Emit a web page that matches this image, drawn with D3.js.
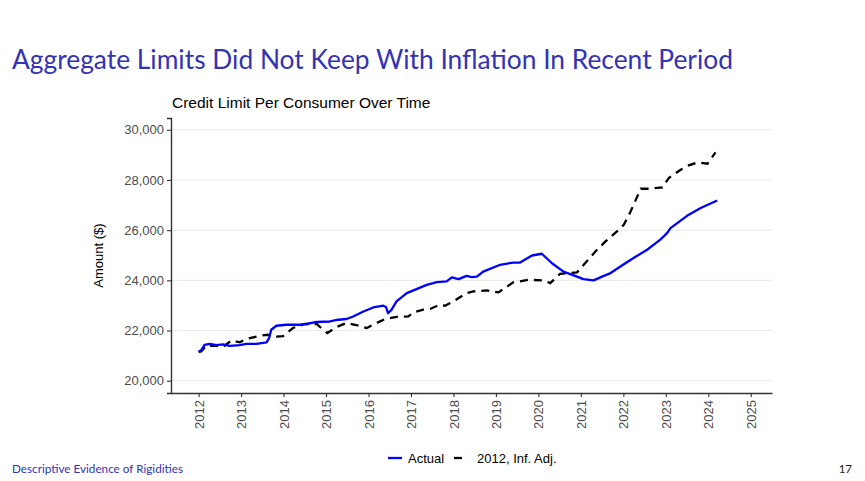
<!DOCTYPE html>
<html>
<head>
<meta charset="utf-8">
<script src="https://cdn.jsdelivr.net/npm/d3@7"></script>
<style>
  body { margin: 0; background: #fff; }
  svg { display: block; }
</style>
</head>
<body>
<div id="chart"></div>
<script>
// Series (year, amount in $)
const actualYears = [2012.0, 2012.06, 2012.14, 2012.26, 2012.42, 2012.57, 2012.73, 2012.97, 2013.12, 2013.36, 2013.60, 2013.66, 2013.71, 2013.83,
  2014.07, 2014.38, 2014.54, 2014.78, 2015.09, 2015.29, 2015.48, 2015.64, 2015.88, 2016.11, 2016.35, 2016.41, 2016.46, 2016.54, 2016.66, 2016.90,
  2017.13, 2017.37, 2017.61, 2017.84, 2017.96, 2018.12, 2018.31, 2018.43, 2018.55, 2018.70, 2019.10, 2019.41, 2019.57, 2019.85, 2020.08,
  2020.32, 2020.59, 2020.91, 2021.06, 2021.30, 2021.54, 2021.70, 2021.93, 2022.24, 2022.56, 2022.87, 2023.03, 2023.11, 2023.50, 2023.82, 2024.21];
const actualValues = [21150, 21210, 21430, 21470, 21420, 21450, 21390, 21420, 21470, 21470, 21530, 21700, 22030, 22190,
  22230, 22230, 22260, 22340, 22360, 22430, 22460, 22560, 22760, 22920, 22990, 22940, 22690, 22820, 23160, 23490,
  23650, 23820, 23930, 23960, 24120, 24050, 24180, 24130, 24150, 24350, 24620, 24710, 24710, 24990, 25060,
  24680, 24350, 24150, 24050, 24000, 24180, 24290, 24550, 24890, 25220, 25620, 25880, 26080, 26570, 26880, 27180];

const adjYears = [2012.0, 2012.06, 2012.18, 2012.42, 2012.57, 2012.77, 2012.97, 2013.12, 2013.44, 2013.63, 2013.83, 2013.99,
  2014.22, 2014.50, 2014.78, 2014.93, 2015.03, 2015.25, 2015.48, 2015.68, 2015.96, 2016.19, 2016.39, 2016.66, 2016.94,
  2017.05, 2017.29, 2017.45, 2017.68, 2017.80, 2018.00, 2018.31, 2018.47, 2018.79, 2019.06, 2019.41, 2019.77, 2020.12,
  2020.28, 2020.51, 2020.91, 2021.38, 2021.58, 2021.85, 2022.01, 2022.17, 2022.41, 2022.60, 2022.92, 2023.07, 2023.35,
  2023.54, 2023.74, 2023.98, 2024.17];
const adjValues = [21150, 21170, 21390, 21390, 21340, 21600, 21530, 21660, 21790, 21830, 21760, 21780,
  22100, 22260, 22260, 22030, 21900, 22140, 22300, 22230, 22100, 22300, 22460, 22540, 22560,
  22720, 22830, 22860, 23030, 22990, 23160, 23490, 23560, 23600, 23520, 23920, 24020, 24000,
  23890, 24260, 24320, 25220, 25550, 25950, 26210, 26740, 27650, 27650, 27700, 28080, 28410,
  28580, 28700, 28650, 29100];

const yearTicks = d3.range(2012, 2026);
const amountTicks = [20000, 22000, 24000, 26000, 28000, 30000];

const actual = actualYears.map((t, i) => ({ t: t, v: actualValues[i] }));
const adjusted = adjYears.map((t, i) => ({ t: t, v: adjValues[i] }));

const W = 865, H = 481;
const beamerBlue = "#3333b3";

const svg = d3.select("#chart").append("svg")
  .attr("width", W)
  .attr("height", H);

// Slide title
svg.append("text")
  .attr("x", 12)
  .attr("y", 69)
  .attr("fill", beamerBlue)
  .style("font-family", "Lato, 'Open Sans', sans-serif")
  .style("font-size", "27px")
  .attr("textLength", 721)
  .attr("lengthAdjust", "spacingAndGlyphs")
  .text("Aggregate Limits Did Not Keep With Inflation In Recent Period");

// Panel
const panel = { left: 171, right: 772, top: 118, bottom: 393 };

const x = d3.scaleLinear()
  .domain([2011.35, 2025.5])
  .range([panel.left, panel.right]);

const y = d3.scaleLinear()
  .domain([19510, 30470])
  .range([panel.bottom, panel.top]);

// Horizontal grid lines
svg.append("g")
  .selectAll("line")
  .data(amountTicks)
  .enter()
  .append("line")
  .attr("x1", panel.left)
  .attr("x2", panel.right)
  .attr("y1", d => y(d))
  .attr("y2", d => y(d))
  .attr("stroke", "#ebebeb")
  .attr("stroke-width", 1.1);

// Chart subtitle
svg.append("text")
  .attr("x", panel.left + 1)
  .attr("y", 108)
  .style("font-family", "'Liberation Sans', Arial, sans-serif")
  .style("font-size", "15.5px")
  .attr("fill", "#000")
  .text("Credit Limit Per Consumer Over Time");

// Y axis
const yAxis = svg.append("g")
  .attr("transform", `translate(${panel.left},0)`)
  .call(d3.axisLeft(y).tickValues(amountTicks).tickFormat(d3.format(",")).tickSize(4).tickPadding(3));
yAxis.select(".domain").attr("stroke", "#333").attr("stroke-width", 1.4);
yAxis.selectAll(".tick line").attr("stroke", "#333").attr("stroke-width", 1.1);
yAxis.selectAll("text")
  .style("font-family", "'Liberation Sans', Arial, sans-serif")
  .style("font-size", "13px")
  .attr("fill", "#4d4d4d");

// X axis
const xAxis = svg.append("g")
  .attr("transform", `translate(0,${panel.bottom})`)
  .call(d3.axisBottom(x).tickValues(yearTicks).tickFormat(d3.format("d")).tickSize(4).tickSizeOuter(0));
xAxis.select(".domain").attr("stroke", "#333").attr("stroke-width", 1.4);
xAxis.selectAll(".tick line").attr("stroke", "#333").attr("stroke-width", 1.1);
xAxis.selectAll("text")
  .style("font-family", "'Liberation Sans', Arial, sans-serif")
  .style("font-size", "13px")
  .attr("fill", "#4d4d4d")
  .attr("transform", "rotate(-90)")
  .attr("x", -7)
  .attr("y", 0)
  .attr("dy", "0.35em")
  .style("text-anchor", "end");

// Y axis label
svg.append("text")
  .attr("transform", `translate(103,${(panel.top + panel.bottom) / 2}) rotate(-90)`)
  .attr("text-anchor", "middle")
  .style("font-family", "'Liberation Sans', Arial, sans-serif")
  .style("font-size", "13px")
  .attr("fill", "#000")
  .text("Amount ($)");

// Lines
const line = d3.line()
  .x(d => x(d.t))
  .y(d => y(d.v));

svg.append("path")
  .datum(adjusted)
  .attr("d", line)
  .attr("fill", "none")
  .attr("stroke", "#000")
  .attr("stroke-width", 2.3)
  .attr("stroke-dasharray", "8,6");

svg.append("path")
  .datum(actual)
  .attr("d", line)
  .attr("fill", "none")
  .attr("stroke", "#0000ff")
  .attr("stroke-width", 2.3)
  .attr("stroke-linejoin", "round");

// Legend
const legend = svg.append("g").attr("transform", "translate(388,458)");
const legendItems = [
  { label: "Actual", color: "#0000ff", x1: 0, x2: 14, tx: 20 },
  { label: "2012, Inf. Adj.", color: "#000", x1: 66, x2: 74, tx: 89 }
];
legendItems.forEach(item => {
  legend.append("line")
    .attr("x1", item.x1)
    .attr("x2", item.x2)
    .attr("y1", 0)
    .attr("y2", 0)
    .attr("stroke", item.color)
    .attr("stroke-width", 2.3);
  legend.append("text")
    .attr("x", item.tx)
    .attr("y", 0)
    .attr("dy", "0.35em")
    .style("font-family", "'Liberation Sans', Arial, sans-serif")
    .style("font-size", "13px")
    .attr("fill", "#000")
    .text(item.label);
});

// Footer
svg.append("text")
  .attr("x", 12)
  .attr("y", 473)
  .attr("fill", beamerBlue)
  .style("font-family", "Lato, sans-serif")
  .style("font-size", "11.5px")
  .attr("textLength", 171)
  .attr("lengthAdjust", "spacingAndGlyphs")
  .text("Descriptive Evidence of Rigidities");

svg.append("text")
  .attr("x", 852)
  .attr("y", 473)
  .attr("text-anchor", "end")
  .attr("fill", "#222")
  .style("font-family", "Lato, sans-serif")
  .style("font-size", "11.5px")
  .text("17");
</script>
</body>
</html>
